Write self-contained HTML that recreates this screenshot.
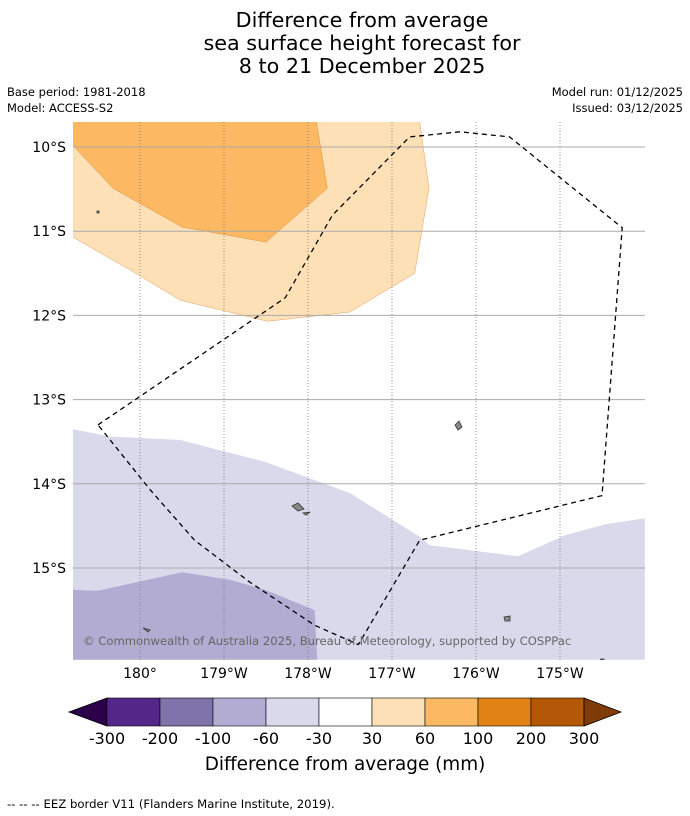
<!DOCTYPE html>
<html><head><meta charset="utf-8"><style>
body{margin:0;background:#fff;font-family:"DejaVu Sans","Liberation Sans",sans-serif}
svg{display:block}
</style></head><body>
<svg id="c" width="690" height="816" viewBox="0 0 690 816" font-family="DejaVu Sans, Liberation Sans, sans-serif">
<g font-size="20.7" text-anchor="middle" fill="#000">
<text x="362" y="27">Difference from average</text>
<text x="362" y="50">sea surface height forecast for</text>
<text x="362" y="73">8 to 21 December 2025</text>
</g>
<g font-size="11.5" fill="#000">
<text x="7" y="96">Base period: 1981-2018</text>
<text x="7" y="112">Model: ACCESS-S2</text>
<text x="683" y="96" text-anchor="end">Model run: 01/12/2025</text>
<text x="683" y="112" text-anchor="end">Issued: 03/12/2025</text>
</g>
<defs><clipPath id="mc"><rect x="73" y="122" width="572" height="538"/></clipPath></defs>
<g id="map" clip-path="url(#mc)"></g>
<g id="axes"></g>
<g id="cbar"></g>
<text x="345" y="770" text-anchor="middle" font-size="18.4">Difference from average (mm)</text>
<text x="7" y="808" font-size="11.7">--  --  -- EEZ border V11 (Flanders Marine Institute, 2019).</text>
</svg>
<script>
const latTicks=[10,11,12,13,14,15];
const lonTicks=[180,181,182,183,184,185];
const lonLabels=["180°","179°W","178°W","177°W","176°W","175°W"];
const cbLevels=["-300","-200","-100","-60","-30","30","60","100","200","300"];
const cbColors=["#542788","#8073ac","#b2abd2","#d8daeb","#ffffff","#fee0b6","#fdb863","#e08214","#b35806"];
const cbLow="#2d004b", cbHigh="#7f3b08";
// contour regions: [lon(deg east),lat(deg S)]
const orangeDark=[[179.2,9.7],[182.1,9.7],[182.23,10.49],[181.5,11.13],[180.5,10.95],[179.68,10.49],[179.2,9.98]];
const orangeLight=[[179.2,9.7],[183.33,9.7],[183.44,10.49],[183.27,11.5],[182.5,11.96],[181.52,12.07],[180.48,11.82],[179.88,11.46],[179.2,11.07]];
const purpleLight=[[179.2,13.35],[179.64,13.44],[180.48,13.48],[181.49,13.74],[182.5,14.11],[183.33,14.63],[183.45,14.73],[184.5,14.86],[185.06,14.61],[185.54,14.48],[186.01,14.41],[186.01,16.09],[179.2,16.09]];
const purpleMid=[[179.2,15.26],[179.5,15.27],[180.5,15.05],[181.07,15.14],[181.49,15.26],[182.08,15.5],[182.11,16.09],[179.2,16.09]];
const eez=[[179.5,13.3],[181.73,11.79],[182.29,10.81],[183.21,9.88],[183.81,9.82],[184.4,9.88],[185.74,10.96],[185.5,14.14],[183.33,14.67],[182.6,15.91],[182.08,15.68],[181.31,15.17],[180.65,14.67],[180.12,14.07],[179.5,13.3]];
const X=lon=>140+(lon-180)*84;
const Y=lat=>147+(lat-10)*84.2;
const NS="http://www.w3.org/2000/svg";
function mk(t,a,p){const e=document.createElementNS(NS,t);for(const k in a)e.setAttribute(k,a[k]);p.appendChild(e);return e;}
const map=document.getElementById('map');
const pts=a=>a.map(p=>X(p[0]).toFixed(1)+','+Y(p[1]).toFixed(1)).join(' ');
let e;
e=mk('polygon',{points:pts(orangeLight),fill:'#fee0b6',stroke:'#e0a060','stroke-width':0.5},map);

e=mk('polygon',{points:pts(orangeDark),fill:'#fdb863',stroke:'#d89040','stroke-width':0.5},map);

e=mk('polygon',{points:pts(purpleLight),fill:'#d8daeb'},map);

e=mk('polygon',{points:pts(purpleMid),fill:'#b2abd2'},map);

latTicks.forEach(l=>{e=mk('line',{x1:73,x2:645,y1:Y(l),y2:Y(l),stroke:'#aaa','stroke-width':1},map);
});
lonTicks.forEach(l=>{e=mk('line',{x1:X(l),x2:X(l),y1:122,y2:660,stroke:'#777','stroke-width':0.8,'stroke-dasharray':'1,2'},map);
});
[[459,421,462,427,458,430,455,425],[292,506,298,503,304,509,298,511],[303,513,310,512,306,515],[504,617,510,616,510,621,505,621],[143,628,150,630,148,632],[97,211,99,211,99,213,97,213],[600,659,604,659,604,661]].forEach(p=>{
e=mk('polygon',{points:p.join(' '),fill:'#888',stroke:'#333','stroke-width':0.8},map);
});
e=mk('polyline',{points:pts(eez),fill:'none',stroke:'#000','stroke-width':1.3,'stroke-dasharray':'5,4'},map);

e=mk('text',{x:83,y:645,'font-size':11.6,fill:'#666'},map);e.textContent='© Commonwealth of Australia 2025, Bureau of Meteorology, supported by COSPPac';

const ax=document.getElementById('axes');
latTicks.forEach(l=>{e=mk('text',{x:66,y:Y(l)+5,'text-anchor':'end','font-size':14},ax);e.textContent=l+'°S';
});
lonTicks.forEach((l,i)=>{e=mk('text',{x:X(l),y:678,'text-anchor':'middle','font-size':14},ax);e.textContent=lonLabels[i];
});
const cb=document.getElementById('cbar');
const w=53,x0=107;
e=mk('polygon',{points:`${x0},698 69,712 ${x0},726`,fill:cbLow,stroke:'#000','stroke-width':0.8},cb);

cbColors.forEach((c,i)=>{e=mk('rect',{x:x0+i*w,y:698,width:w,height:28,fill:c,stroke:'#000','stroke-width':0.6},cb);
});
const xe=x0+cbColors.length*w;
e=mk('polygon',{points:`${xe},698 621,712 ${xe},726`,fill:cbHigh,stroke:'#000','stroke-width':0.8},cb);

cbLevels.forEach((t,i)=>{e=mk('text',{x:x0+i*w,y:744,'text-anchor':'middle','font-size':16},cb);e.textContent=t;
});
</script>
</body></html>
